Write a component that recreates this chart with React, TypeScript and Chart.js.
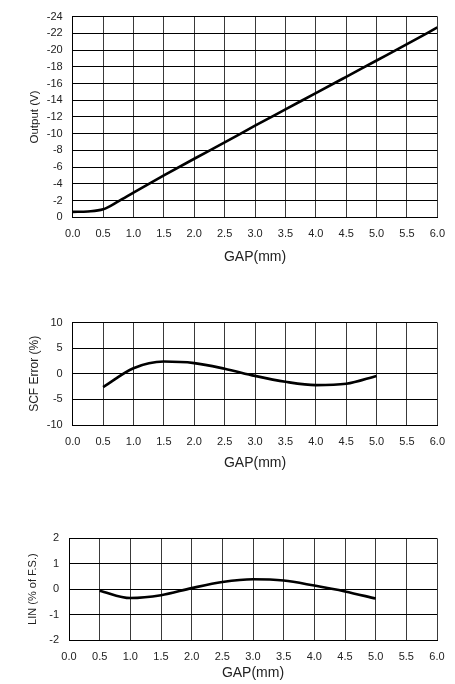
import React, { useEffect, useRef } from "react";
import { Chart, registerables } from "chart.js";

Chart.register(...registerables);

// ---- data ----
const outputGap = [0, 0.25, 0.5, 0.75, 1.0, 1.5, 2.0, 2.5, 3.0, 3.5, 4.0, 4.5, 5.0, 5.5, 6.0];
const outputVolts = [-0.65, -0.7, -0.95, -1.9, -2.95, -5.0, -7.0, -8.95, -10.95, -12.9, -14.85, -16.8, -18.75, -20.7, -22.7];

const errGap = [0.5, 1.0, 1.5, 2.0, 2.5, 3.0, 3.5, 4.0, 4.5, 5.0];
const scfError = [-2.6, 1.1, 2.4, 2.1, 1.0, -0.4, -1.55, -2.2, -1.95, -0.4];

const linGap = [0.5, 1.0, 1.5, 2.0, 2.5, 3.0, 3.5, 4.0, 4.5, 5.0];
const linError = [-0.06, -0.35, -0.24, 0.04, 0.28, 0.39, 0.34, 0.14, -0.09, -0.37];

const xTitle = "GAP(mm)";
const yTitles = ["Output (V)", "SCF Error (%)", "LIN (% of F.S.)"];

const TICK_FONT = { family: "'Liberation Sans Narrow', 'Arial Narrow', 'Liberation Sans', Arial, sans-serif", size: 11 };
const TITLE_FAMILY = "'Liberation Sans', Arial, sans-serif";

type PanelProps = {
  top: number;
  height: number;
  plotLeft: number;
  plotTop: number;
  plotBottom: number;
  plotRight: number;
  xs: number[];
  ys: number[];
  yMin: number;
  yMax: number;
  yStep: number;
  reverse: boolean;
  yTitle: string;
  yTitleSize: number;
  yTitleX: number;
  xTitleY: number;
};

function Panel(p: PanelProps) {
  const ref = useRef<HTMLCanvasElement | null>(null);
  useEffect(() => {
    if (!ref.current) return;
    const axisH = p.height - (p.plotBottom - p.top);
    const chart = new Chart(ref.current, {
      type: "line",
      data: {
        datasets: [
          {
            data: p.xs.map((x, i) => ({ x, y: p.ys[i] })),
            borderColor: "#000",
            borderWidth: 2.6,
            pointRadius: 0,
            tension: 0.4,
            cubicInterpolationMode: "monotone",
            fill: false,
          },
        ],
      },
      options: {
        animation: false,
        responsive: false,
        maintainAspectRatio: false,
        events: [],
        layout: {
          padding: { left: 0, top: p.plotTop - p.top, right: 455 - p.plotRight, bottom: 0 },
        },
        plugins: { legend: { display: false }, tooltip: { enabled: false }, title: { display: false } },
        scales: {
          x: {
            type: "linear",
            min: 0,
            max: 6,
            grid: { color: "#3a3a3a", lineWidth: 1, drawTicks: false },
            border: { color: "#000", width: 1 },
            ticks: {
              stepSize: 0.5,
              autoSkip: false,
              maxRotation: 0,
              padding: 10,
              color: "#222",
              font: TICK_FONT,
              callback: (v: any) => Number(v).toFixed(1),
            },
            title: {
              display: true,
              text: xTitle,
              color: "#222",
              font: { family: TITLE_FAMILY, size: 14, lineHeight: 1 },
              padding: { top: 0, bottom: p.top + p.height - p.xTitleY - 7 },
            },
            afterFit: (s: any) => {
              s.height = axisH;
            },
          },
          y: {
            type: "linear",
            min: p.yMin,
            max: p.yMax,
            reverse: p.reverse,
            grid: { color: "#000", lineWidth: 1, drawTicks: false },
            border: { color: "#000", width: 1 },
            ticks: {
              stepSize: p.yStep,
              autoSkip: false,
              padding: 10,
              color: "#222",
              font: TICK_FONT,
              callback: (v: any) => String(Number(v) === 0 ? 0 : v),
            },
            title: {
              display: true,
              text: p.yTitle,
              color: "#222",
              font: { family: TITLE_FAMILY, size: p.yTitleSize, lineHeight: 1 },
              padding: { top: p.yTitleX - p.yTitleSize / 2, bottom: 0 },
            },
            afterFit: (s: any) => {
              s.width = p.plotLeft;
            },
          },
        },
      },
    } as any);
    return () => chart.destroy();
  }, []);
  return (
    <div style={{ position: "absolute", left: 0, top: p.top, width: 455, height: p.height }}>
      <canvas ref={ref} width={455} height={p.height} style={{ width: 455, height: p.height, display: "block" }} />
    </div>
  );
}

export default function App() {
  return (
    <div style={{ position: "absolute", left: 0, top: 0, width: 455, height: 684, background: "#fff" }}>
      <Panel
        top={0}
        height={272}
        plotLeft={72.7}
        plotTop={14.3}
        plotBottom={217.3}
        plotRight={437.5}
        xs={outputGap}
        ys={outputVolts}
        yMin={-24}
        yMax={0}
        yStep={2}
        reverse={true}
        yTitle={yTitles[0]}
        yTitleSize={11.5}
        yTitleX={35}
        xTitleY={257}
      />
      <Panel
        top={290}
        height={186}
        plotLeft={72.7}
        plotTop={322.7}
        plotBottom={425}
        plotRight={437.5}
        xs={errGap}
        ys={scfError}
        yMin={-10}
        yMax={10}
        yStep={5}
        reverse={false}
        yTitle={yTitles[1]}
        yTitleSize={12}
        yTitleX={35}
        xTitleY={463}
      />
      <Panel
        top={520}
        height={164}
        plotLeft={69}
        plotTop={538.3}
        plotBottom={640}
        plotRight={437}
        xs={linGap}
        ys={linError}
        yMin={-2}
        yMax={2}
        yStep={1}
        reverse={false}
        yTitle={yTitles[2]}
        yTitleSize={11}
        yTitleX={33.3}
        xTitleY={673.5}
      />
    </div>
  );
}
